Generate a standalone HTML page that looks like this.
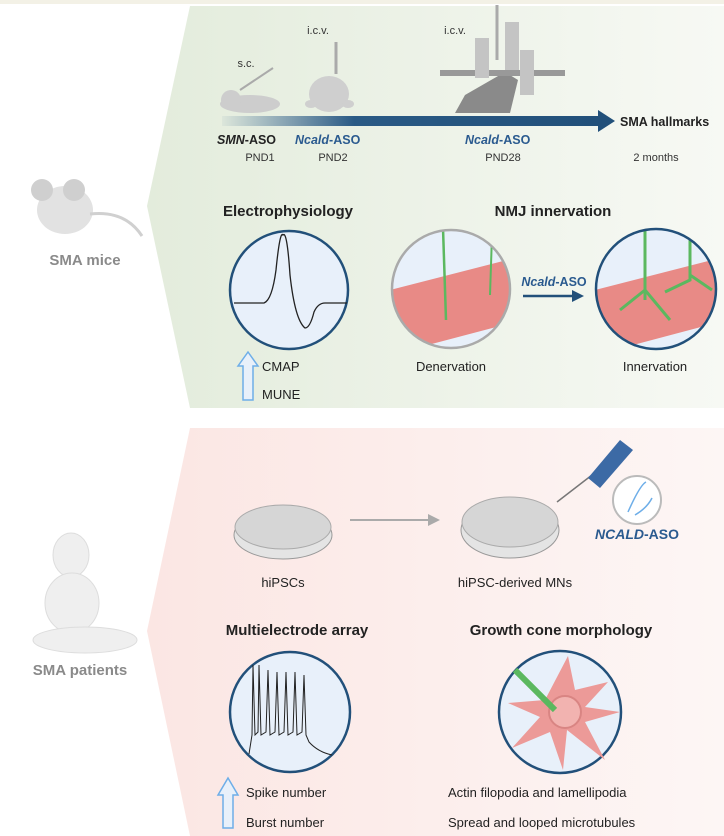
<!DOCTYPE html>
<html><head><meta charset="utf-8"><style>
body{margin:0;background:#fff;}
svg{display:block;font-family:"Liberation Sans",sans-serif;}
</style></head><body>
<svg width="724" height="836" viewBox="0 0 724 836" xmlns="http://www.w3.org/2000/svg">
<defs>
<linearGradient id="gt" x1="0" x2="1" y1="0" y2="0"><stop offset="0" stop-color="#e3ecdc"/><stop offset="1" stop-color="#f7f9f4"/></linearGradient>
<linearGradient id="gb" x1="0" x2="1"><stop offset="0" stop-color="#fbe6e3"/><stop offset="1" stop-color="#fdf6f5"/></linearGradient>
<linearGradient id="ar" x1="0" x2="1"><stop offset="0" stop-color="#2a5a85" stop-opacity="0.05"/><stop offset="0.35" stop-color="#2a5a85"/><stop offset="1" stop-color="#22507a"/></linearGradient>
<clipPath id="c1"><circle cx="451" cy="289" r="59"/></clipPath>
<clipPath id="c2"><circle cx="656" cy="289" r="60"/></clipPath>
</defs>
<rect x="0" y="0" width="724" height="4" fill="#f3f1e6"/>
<polygon points="190,6 724,6 724,408 190,408 147,206" fill="url(#gt)"/>
<polygon points="190,428 724,428 724,836 190,836 147,631" fill="url(#gb)"/>

<!-- top timeline -->
<text x="246" y="67" font-size="11" text-anchor="middle" fill="#333">s.c.</text>
<text x="318" y="34" font-size="11" text-anchor="middle" fill="#333">i.c.v.</text>
<text x="455" y="34" font-size="11" text-anchor="middle" fill="#333">i.c.v.</text>
<ellipse cx="250" cy="104" rx="30" ry="9" fill="#cdcdcd"/><circle cx="231" cy="100" r="10" fill="#cdcdcd"/>
<line x1="240" y1="90" x2="273" y2="68" stroke="#aaa" stroke-width="2"/>
<ellipse cx="329" cy="94" rx="20" ry="18" fill="#cfcfcf"/>
<ellipse cx="311" cy="104" rx="6" ry="4" fill="#cfcfcf"/><ellipse cx="348" cy="104" rx="6" ry="4" fill="#cfcfcf"/>
<line x1="336" y1="42" x2="336" y2="74" stroke="#aaa" stroke-width="3"/>
<polygon points="455,113 465,95 505,72 518,80 510,113" fill="#8a8a8a"/>
<rect x="440" y="70" width="125" height="6" fill="#999"/>
<rect x="475" y="38" width="14" height="40" fill="#c4c4c4"/><rect x="505" y="22" width="14" height="48" fill="#c4c4c4"/><rect x="520" y="50" width="14" height="45" fill="#c4c4c4"/>
<line x1="497" y1="5" x2="497" y2="60" stroke="#aaa" stroke-width="3"/>
<rect x="222" y="116" width="378" height="10" fill="url(#ar)"/>
<polygon points="598,110 615,121 598,132" fill="#22507a"/>
<text x="620" y="126" font-size="12.5" font-weight="bold" fill="#222">SMA hallmarks</text>
<text x="217" y="144" font-size="12.5" font-weight="bold" fill="#222"><tspan font-style="italic">SMN</tspan>-ASO</text>
<text x="295" y="144" font-size="12.5" font-weight="bold" fill="#2a5a8f"><tspan font-style="italic">Ncald</tspan>-ASO</text>
<text x="465" y="144" font-size="12.5" font-weight="bold" fill="#2a5a8f"><tspan font-style="italic">Ncald</tspan>-ASO</text>
<text x="260" y="161" font-size="11" text-anchor="middle" fill="#333">PND1</text>
<text x="333" y="161" font-size="11" text-anchor="middle" fill="#333">PND2</text>
<text x="503" y="161" font-size="11" text-anchor="middle" fill="#333">PND28</text>
<text x="656" y="161" font-size="11" text-anchor="middle" fill="#333">2 months</text>

<!-- mouse -->
<ellipse cx="65" cy="210" rx="28" ry="24" fill="#e2e2e2"/>
<circle cx="42" cy="190" r="11" fill="#cfcfcf"/><circle cx="74" cy="190" r="11" fill="#cfcfcf"/>
<path d="M90 214 Q125 210 142 236" stroke="#d0d0d0" stroke-width="3" fill="none"/>
<text x="85" y="265" font-size="15" font-weight="bold" text-anchor="middle" fill="#8a8a8a">SMA mice</text>

<!-- electrophysiology -->
<text x="288" y="216" font-size="15" font-weight="bold" text-anchor="middle" fill="#222">Electrophysiology</text>
<circle cx="289" cy="290" r="59" fill="#e8f0fa" stroke="#22507a" stroke-width="2.5"/>
<path d="M234 303 L264 303 Q272 300 276 270 Q280 230 283 235 Q287 230 290 275 Q295 320 305 328 Q310 328 314 312 Q318 303 325 303 L347 303" stroke="#222" stroke-width="1.3" fill="none"/>
<path d="M243 400 L243 366 L238 366 L248 352 L258 366 L253 366 L253 400 Z" fill="#e8f0fa" stroke="#6eaee8" stroke-width="1.5"/>
<text x="262" y="371" font-size="13" fill="#222">CMAP</text>
<text x="262" y="399" font-size="13" fill="#222">MUNE</text>

<!-- NMJ -->
<text x="553" y="216" font-size="15" font-weight="bold" text-anchor="middle" fill="#222">NMJ innervation</text>
<g clip-path="url(#c1)"><rect x="390" y="228" width="125" height="125" fill="#e8f0fa"/>
<polygon points="390,290 515,258 515,322 390,355" fill="#e88a86"/>
<line x1="443" y1="228" x2="446" y2="320" stroke="#5bb85f" stroke-width="2.5"/><line x1="492" y1="235" x2="490" y2="295" stroke="#5bb85f" stroke-width="2"/></g>
<circle cx="451" cy="289" r="59" fill="none" stroke="#aaa" stroke-width="2.5"/>
<g clip-path="url(#c2)"><rect x="595" y="228" width="125" height="125" fill="#e8f0fa"/>
<polygon points="595,290 720,258 720,322 595,355" fill="#e88a86"/>
<path d="M645 230 L645 300 M645 290 L620 310 M645 290 L670 320 M690 235 L690 280 L665 292 M690 275 L712 290" stroke="#5bb85f" stroke-width="3" fill="none"/></g>
<circle cx="656" cy="289" r="60" fill="none" stroke="#22507a" stroke-width="2.5"/>
<text x="554" y="286" font-size="12.5" font-weight="bold" text-anchor="middle" fill="#2a5a8f"><tspan font-style="italic">Ncald</tspan>-ASO</text>
<line x1="523" y1="296" x2="574" y2="296" stroke="#22507a" stroke-width="2.5"/>
<polygon points="572,290 584,296 572,302" fill="#22507a"/>
<text x="451" y="371" font-size="13" text-anchor="middle" fill="#222">Denervation</text>
<text x="655" y="371" font-size="13" text-anchor="middle" fill="#222">Innervation</text>

<!-- bottom -->
<ellipse cx="283" cy="535" rx="49" ry="24" fill="#e4e4e4" stroke="#999"/>
<ellipse cx="283" cy="527" rx="48" ry="22" fill="#d6d6d6" stroke="#aaa"/>
<text x="283" y="587" font-size="13" text-anchor="middle" fill="#222">hiPSCs</text>
<line x1="350" y1="520" x2="430" y2="520" stroke="#aaa" stroke-width="2"/>
<polygon points="428,514 440,520 428,526" fill="#aaa"/>
<ellipse cx="510" cy="530" rx="49" ry="28" fill="#e4e4e4" stroke="#999"/>
<ellipse cx="510" cy="522" rx="48" ry="25" fill="#d6d6d6" stroke="#aaa"/>
<text x="515" y="587" font-size="13" text-anchor="middle" fill="#222">hiPSC-derived MNs</text>
<line x1="557" y1="502" x2="592" y2="475" stroke="#777" stroke-width="1.5"/>
<polygon points="588,478 620,440 633,450 600,488" fill="#3c6aa5"/>
<circle cx="637" cy="500" r="24" fill="#fff" stroke="#bbb" stroke-width="2"/>
<path d="M628 512 Q640 485 646 482 M635 515 Q647 508 652 498" stroke="#6eaee8" stroke-width="1.5" fill="none"/>
<text x="637" y="539" font-size="14" font-weight="bold" font-style="italic" text-anchor="middle" fill="#2a5a8f">NCALD<tspan font-style="normal">-ASO</tspan></text>

<!-- baby -->
<ellipse cx="71" cy="555" rx="18" ry="22" fill="#efefef" stroke="#ddd"/>
<ellipse cx="72" cy="603" rx="27" ry="30" fill="#efefef" stroke="#ddd"/>
<ellipse cx="85" cy="640" rx="52" ry="13" fill="#efefef" stroke="#ddd"/>
<text x="80" y="675" font-size="15" font-weight="bold" text-anchor="middle" fill="#8a8a8a">SMA patients</text>

<!-- MEA -->
<text x="297" y="635" font-size="15" font-weight="bold" text-anchor="middle" fill="#222">Multielectrode array</text>
<circle cx="290" cy="712" r="60" fill="#e8f0fa" stroke="#22507a" stroke-width="2.5"/>
<path d="M249 754 L252 735 L253 665 L255 735 L258 732 L259 665 L261 735 L266 732 L268 670 L270 735 L275 732 L277 672 L279 735 L284 732 L286 672 L288 735 L293 732 L295 672 L297 735 L302 732 L304 675 L306 735 L309 742 Q318 752 332 755" stroke="#222" stroke-width="1" fill="none"/>
<path d="M223 828 L223 795 L218 795 L228 778 L238 795 L233 795 L233 828 Z" fill="#e8f0fa" stroke="#6eaee8" stroke-width="1.5"/>
<text x="246" y="797" font-size="13" fill="#222">Spike number</text>
<text x="246" y="827" font-size="13" fill="#222">Burst number</text>

<!-- growth cone -->
<text x="561" y="635" font-size="15" font-weight="bold" text-anchor="middle" fill="#222">Growth cone morphology</text>
<circle cx="560" cy="712" r="61" fill="#e8f0fa" stroke="#22507a" stroke-width="2.5"/>
<polygon points="568,656 575,690 608,682 585,707 620,712 585,722 605,760 567,730 563,770 550,732 512,748 540,717 508,703 545,700" fill="#ec9a98"/>
<circle cx="565" cy="712" r="16" fill="#f2b3b0" stroke="#d98583" stroke-width="2"/>
<line x1="515" y1="670" x2="555" y2="710" stroke="#5bb85f" stroke-width="6"/>
<text x="448" y="797" font-size="13" fill="#222">Actin filopodia and lamellipodia</text>
<text x="448" y="827" font-size="13" fill="#222">Spread and looped microtubules</text>
</svg>
</body></html>
